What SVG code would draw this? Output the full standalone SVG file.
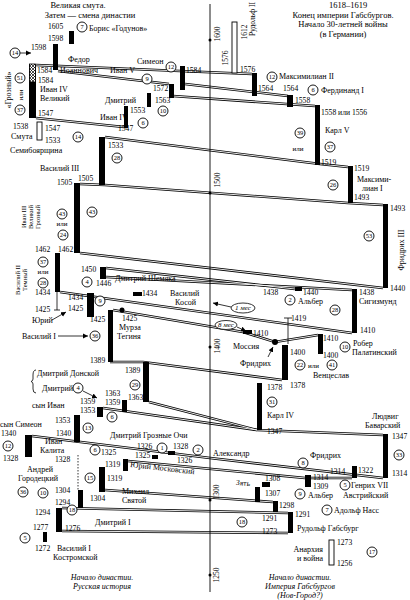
<svg xmlns="http://www.w3.org/2000/svg" width="410" height="600" viewBox="0 0 410 600">
<defs>
<style>
text{font-family:"Liberation Serif","DejaVu Serif",serif;font-size:8px;fill:#000}
.y{font-size:7.6px}
.t{font-size:8.5px}
.s{font-size:7px}
.r{font-size:6.5px}
.it{font-style:italic;font-size:8px}
.bar{fill:#000}
.hb{fill:#fff;stroke:#000;stroke-width:0.9}
.c circle{fill:#fff;stroke:#000;stroke-width:0.9}
.c text{font-size:6.5px;text-anchor:middle}
.lo{fill:none;stroke:#000;stroke-width:2.6}
.li{fill:none;stroke:#fff;stroke-width:0.9}
.th{fill:none;stroke:#000;stroke-width:0.8}
.ax{stroke:#000;stroke-width:0.9}
</style>
<pattern id="hatch" width="3" height="3" patternUnits="userSpaceOnUse">
<rect width="3" height="3" fill="#fff"/>
<path d="M0,3 L3,0 M0,0 L3,3" stroke="#000" stroke-width="0.7"/>
</pattern>
<marker id="ah" markerWidth="6" markerHeight="6" refX="5" refY="3" orient="auto" markerUnits="userSpaceOnUse">
<path d="M0,0.5 L5,3 L0,5.5 z" fill="#000"/>
</marker>
</defs>
<rect width="410" height="600" fill="#fff"/>

<g id="connectors">
<g id="dbl">
<path class="lo" d="M36,65 L252,74"/>
<path class="lo" d="M58,71 L169,84"/>
<path class="lo" d="M185,84 L288,96"/>
<path class="lo" d="M173,96 L315,106"/>
<path class="lo" d="M36,118 L124,127"/>
<path class="lo" d="M105,137 L320,164 L348,167"/>
<path class="lo" d="M80,184 L105,185 L348,203 L383,205"/>
<path class="lo" d="M80,253 L383,288"/>
<path class="lo" d="M106,268 L295,289"/>
<path class="lo" d="M106,277 L352,290"/>
<path class="lo" d="M60,292 L352,333"/>
<path class="lo" d="M113,310 L243,332 L275,342 L318,335"/>
<path class="lo" d="M110,362 L143,362 L282,380"/>
<path class="lo" d="M149,402 L257,430 L383,435"/>
<path class="lo" d="M103,408 L257,430"/>
<path class="lo" d="M32,436 L210,458 L383,478"/>
<path class="lo" d="M128,461 L305,478 L352,478"/>
<path class="lo" d="M105,490 L273,502"/>
<path class="lo" d="M62,508 L288,513"/>
<path class="lo" d="M62,531 L288,533"/>
</g>
<g id="dbl-inner">
<path class="li" d="M36,65 L252,74"/>
<path class="li" d="M58,71 L169,84"/>
<path class="li" d="M185,84 L288,96"/>
<path class="li" d="M173,96 L315,106"/>
<path class="li" d="M36,118 L124,127"/>
<path class="li" d="M105,137 L320,164 L348,167"/>
<path class="li" d="M80,184 L105,185 L348,203 L383,205"/>
<path class="li" d="M80,253 L383,288"/>
<path class="li" d="M106,268 L295,289"/>
<path class="li" d="M106,277 L352,290"/>
<path class="li" d="M60,292 L352,333"/>
<path class="li" d="M113,310 L243,332 L275,342 L318,335"/>
<path class="li" d="M110,362 L143,362 L282,380"/>
<path class="li" d="M149,402 L257,430 L383,435"/>
<path class="li" d="M103,408 L257,430"/>
<path class="li" d="M32,436 L210,458 L383,478"/>
<path class="li" d="M128,461 L305,478 L352,478"/>
<path class="li" d="M105,490 L273,502"/>
<path class="li" d="M62,508 L288,513"/>
<path class="li" d="M62,531 L288,533"/>
</g>
<path class="th" d="M20,53 L31,53" marker-end="url(#ah)"/>
<path class="th" d="M57,292 L57,310 M54,310 L60,310"/>
<path class="th" d="M52,320 L66,312" marker-end="url(#ah)"/>
<path class="th" d="M58,336 L88,336" marker-end="url(#ah)"/>
<path class="th" d="M83,391 L97,398" marker-end="url(#ah)"/>
<path class="th" d="M231,307 L213,303" marker-end="url(#ah)"/>
<path class="th" d="M237,327 L246,331" marker-end="url(#ah)"/>
<path class="th" d="M268,357 L273,347" marker-end="url(#ah)"/>
<path class="th" d="M288,318 L288,344 M284,318 L292,318"/>
<path class="th" d="M78,455 L78,490" stroke-dasharray="1.5,1.5"/>
</g>

<g id="axis">
<line class="ax" x1="210" y1="4" x2="210" y2="592"/>
<circle cx="210" cy="40" r="1.5"/>
<circle cx="210" cy="193" r="1.5"/>
<circle cx="210" cy="347" r="1.5"/>
<circle cx="210" cy="500" r="1.5"/>
<circle cx="210" cy="575" r="1.5"/>
<text class="y" transform="translate(220,34) rotate(-90)" text-anchor="middle">1600</text>
<text class="y" transform="translate(220,180) rotate(-90)" text-anchor="middle">1500</text>
<text class="y" transform="translate(220,346) rotate(-90)" text-anchor="middle">1400</text>
<text class="y" transform="translate(219,492) rotate(-90)" text-anchor="middle">1300</text>
<text class="y" transform="translate(219,575) rotate(-90)" text-anchor="middle">1250</text>
</g>

<g id="title-left">
<text class="t" x="78" y="8" text-anchor="middle">Великая смута.</text>
<text class="t" x="90" y="17.5" text-anchor="middle">Затем — смена династии</text>
</g>
<g id="title-right">
<text class="t" x="348" y="8" text-anchor="middle">1618–1619</text>
<text class="t" x="343" y="17.5" text-anchor="middle">Конец империи Габсбургов.</text>
<text class="t" x="343" y="27" text-anchor="middle">Начало 30-летней войны</text>
<text class="t" x="343" y="36.5" text-anchor="middle">(в Германии)</text>
</g>

<g id="boris">
<rect class="bar" x="69" y="31" width="5" height="13"/>
<text class="y" x="48" y="29">1605</text>
<text class="y" x="48" y="41">1598</text>
<g class="c"><circle cx="82" cy="27" r="5"/><text x="82" y="29.3">7</text></g>
<text x="89" y="31">Борис «Годунов»</text>
</g>

<g id="fedor">
<rect class="bar" x="53" y="44" width="5" height="26"/>
<g class="c"><circle cx="15" cy="53" r="5"/><text x="15" y="55.3">14</text></g>
<text class="y" x="31" y="50">1598</text>
<text x="68" y="62">Федор</text>
<text x="60" y="72.5">Иоаннович</text>
<text class="y" x="37" y="73">1584</text>
</g>

<g id="ivan4">
<rect x="29" y="64" width="7" height="54" fill="#000"/>
<rect x="29.5" y="64" width="6" height="18" fill="url(#hatch)" stroke="#000" stroke-width="0.8"/>
<text class="y" x="38" y="83">1584</text>
<text x="40" y="92">Иван IV</text>
<text x="40" y="101">Великий</text>
<text class="y" x="38" y="116">1547</text>
<text transform="translate(11,90) rotate(-90)" text-anchor="middle">«Грозный»</text>
<g class="c"><circle cx="20" cy="78" r="5"/><text x="20" y="80.3">51</text></g>
<text class="s" transform="translate(22.5,95) rotate(-90)" text-anchor="middle">или</text>
<g class="c"><circle cx="20" cy="110" r="5"/><text x="20" y="112.3">37</text></g>
</g>

<g id="simeon">
<text x="137" y="64">Симеон</text>
<g class="c"><circle cx="171" cy="67" r="5"/><text x="171" y="69.3">12</text></g>
<rect class="bar" x="180" y="66" width="5" height="24"/>
<text class="y" x="186" y="73">1584</text>
</g>

<g id="ivan5">
<text x="110" y="73">Иван V</text>
<g class="c"><circle cx="147" cy="79" r="5"/><text x="147" y="81.3">9</text></g>
<rect class="bar" x="169" y="84" width="5" height="14"/>
<text class="y" x="153" y="91">1572</text>
</g>

<g id="dmitry-1563">
<text x="105" y="103">Дмитрий</text>
<rect class="bar" x="147" y="93" width="4" height="14"/>
<text class="y" x="155" y="103">1563</text>
<g class="c"><circle cx="163" cy="111" r="5"/><text x="163" y="113.3">10</text></g>
</g>

<g id="ivan4b">
<text x="100" y="120">Иван IV</text>
<rect class="bar" x="124" y="106" width="4" height="22"/>
<text class="y" x="130" y="113">1553</text>
<text class="y" x="118" y="131">1547</text>
<g class="c"><circle cx="143" cy="123" r="5"/><text x="143" y="125.3">6</text></g>
</g>

<g id="semiboyar">
<rect class="hb" x="37" y="122" width="5" height="18"/>
<text class="y" x="13" y="129">1538</text>
<text x="11" y="138.5">Смута</text>
<text class="y" x="45" y="131">1547</text>
<text class="y" x="45" y="143">1533</text>
<g class="c"><circle cx="78" cy="137" r="5"/><text x="78" y="139.3">14</text></g>
<text x="10" y="153">Семибоярщина</text>
</g>

<g id="vasily3">
<text x="40" y="171">Василий III</text>
<rect class="bar" x="99" y="137" width="6" height="48"/>
<text class="y" x="108" y="148">1533</text>
<g class="c"><circle cx="117" cy="158" r="5"/><text x="117" y="160.3">28</text></g>
<text class="y" x="78" y="181">1505</text>
</g>

<g id="ivan3">
<rect class="bar" x="74" y="183" width="6" height="70"/>
<text class="y" x="57" y="185">1505</text>
<g class="c"><circle cx="92" cy="212" r="5"/><text x="92" y="214.3">43</text></g>
<text class="r" transform="translate(26,217) rotate(-90)" text-anchor="middle">Иван III</text>
<text class="r" transform="translate(33.2,217) rotate(-90)" text-anchor="middle">Великий</text>
<text class="r" transform="translate(40.4,217) rotate(-90)" text-anchor="middle">Грозный</text>
<g class="c"><circle cx="62" cy="214" r="5"/><text x="62" y="216.3">43</text></g>
<text class="s" x="62" y="226" text-anchor="middle">или</text>
<g class="c"><circle cx="63" cy="235" r="5"/><text x="63" y="237.3">24</text></g>
<text class="y" x="58" y="252">1462</text>
</g>

<g id="vasily2">
<text class="y" x="35" y="252">1462</text>
<rect class="bar" x="55" y="253" width="5" height="39"/>
<g class="c"><circle cx="43" cy="262" r="5"/><text x="43" y="264.3">37</text></g>
<text class="s" x="43" y="274" text-anchor="middle">или</text>
<g class="c"><circle cx="43" cy="283" r="5"/><text x="43" y="285.3">28</text></g>
<text class="y" x="35" y="295">1434</text>
<text class="r" transform="translate(20,280) rotate(-90)" text-anchor="middle">Василий II</text>
<text class="r" transform="translate(27.2,280) rotate(-90)" text-anchor="middle">Темный</text>
<text class="y" x="35" y="312">1425</text>
</g>

<g id="yuri">
<text x="32" y="323">Юрий</text>
</g>

<g id="vasily1">
<text x="22" y="339">Василий I</text>
<g class="c"><circle cx="95" cy="336" r="5"/><text x="95" y="338.3">36</text></g>
<text class="y" x="68" y="300">1434</text>
<text class="y" x="68" y="311">1425</text>
<rect class="bar" x="87" y="293" width="7" height="24"/>
<g class="c"><circle cx="100" cy="301" r="5"/><text x="100" y="303.3">9</text></g>
<text class="y" x="90" y="322">1425</text>
<rect class="bar" x="108" y="310" width="5" height="52"/>
<text class="y" x="90" y="363">1389</text>
</g>

<g id="shemyaka">
<text class="y" x="81" y="272">1450</text>
<rect class="bar" x="100" y="267" width="6" height="12"/>
<g class="c"><circle cx="87" cy="282" r="5"/><text x="87" y="284.3">4</text></g>
<text class="y" x="96" y="286">1446</text>
<text x="115" y="281">Дмитрий Шемяка</text>
</g>

<g id="kosoy">
<rect class="bar" x="133" y="292" width="9" height="4"/>
<text class="y" x="142" y="296">1434</text>
<text x="170" y="296">Василий</text>
<text x="175" y="305">Косой</text>
</g>

<g id="tegin">
<circle cx="122" cy="310" r="2.5"/>
<text class="y" x="122" y="321">1425</text>
<text x="119" y="330">Мурза</text>
<text x="117" y="339">Тегиня</text>
</g>

<g id="months">
<ellipse cx="243" cy="308" rx="12" ry="5" fill="#fff" stroke="#000" stroke-width="0.8"/>
<text class="s" x="243" y="310.3" text-anchor="middle" font-style="italic">1 мес</text>
<ellipse cx="226" cy="325" rx="11" ry="4.5" fill="#fff" stroke="#000" stroke-width="0.8"/>
<text class="s" x="226" y="327.3" text-anchor="middle" font-style="italic">8 мес</text>
<rect class="bar" x="243" y="330" width="9" height="4"/>
<text class="y" x="253" y="336">1410</text>
</g>

<g id="mossiya">
<circle cx="275" cy="342" r="3"/>
<text x="233" y="349">Моссия</text>
<text x="240" y="366">Фридрих</text>
</g>

<g id="rudolf2">
<rect class="hb" x="232" y="22" width="5" height="51"/>
<text class="y" transform="translate(247,32) rotate(-90)" text-anchor="middle">1612</text>
<text class="y" transform="translate(254.5,19) rotate(-90)" text-anchor="middle">Рудольф II</text>
<text class="y" transform="translate(228,58) rotate(-90)" text-anchor="middle">1576</text>
</g>

<g id="max2">
<rect class="bar" x="252" y="73" width="5" height="23"/>
<text class="y" x="240" y="72">1576</text>
<g class="c"><circle cx="272" cy="77" r="5"/><text x="272" y="79.3">12</text></g>
<text x="279" y="79">Максимилиан II</text>
<text class="y" x="258" y="91">1564</text>
</g>

<g id="ferdinand">
<text class="y" x="283" y="91">1564</text>
<g class="c"><circle cx="313" cy="90" r="5"/><text x="313" y="92.3">6</text></g>
<text x="321" y="93">Фердинанд I</text>
<rect class="bar" x="287" y="95" width="6" height="12"/>
<text class="y" x="295" y="103">1558</text>
</g>

<g id="karl5">
<rect class="bar" x="315" y="105" width="5" height="60"/>
<text class="y" x="321" y="115">1558 или 1556</text>
<text x="325" y="133">Карл V</text>
<g class="c"><circle cx="300" cy="133" r="5"/><text x="300" y="135.3">39</text></g>
<text class="s" x="298" y="151" text-anchor="middle">или</text>
<g class="c"><circle cx="330" cy="147" r="5"/><text x="330" y="149.3">37</text></g>
<text class="y" x="321" y="165">1519</text>
</g>

<g id="max1">
<rect class="bar" x="348" y="166" width="5" height="37"/>
<text class="y" x="354" y="171">1519</text>
<text x="357" y="182">Максими-</text>
<text x="362" y="191">лиан I</text>
<text class="y" x="354" y="200">1493</text>
<g class="c"><circle cx="333" cy="185" r="5"/><text x="333" y="187.3">26</text></g>
</g>

<g id="friedrich3">
<rect class="bar" x="383" y="204" width="5" height="84"/>
<text class="y" x="390" y="211">1493</text>
<g class="c"><circle cx="369" cy="236" r="5"/><text x="369" y="238.3">53</text></g>
<text transform="translate(404,250) rotate(-90)" text-anchor="middle">Фридрих III</text>
<text class="y" x="390" y="291">1440</text>
</g>

<g id="albert2">
<rect class="bar" x="295" y="287" width="7" height="4"/>
<text class="y" x="263" y="295">1438</text>
<text class="y" x="303" y="295">1440</text>
<g class="c"><circle cx="290" cy="300" r="5"/><text x="290" y="302.3">2</text></g>
<text x="298" y="304">Альбер</text>
</g>

<g id="sigismund">
<rect class="bar" x="352" y="289" width="5" height="44"/>
<text class="y" x="359" y="295">1438</text>
<text x="359" y="304">Сигизмунд</text>
<g class="c"><circle cx="335" cy="310" r="5"/><text x="335" y="312.3">28</text></g>
<text class="y" x="360" y="333">1410</text>
</g>

<g id="marker-1419">
<text class="y" x="291" y="321">1419</text>
</g>

<g id="rober">
<rect class="bar" x="318" y="334" width="5" height="20"/>
<text class="y" x="323" y="341">1410</text>
<g class="c"><circle cx="345" cy="347" r="5"/><text x="345" y="349.3">10</text></g>
<text x="353" y="345.5">Робер</text>
<text x="352" y="354.5">Палатинский</text>
<text class="y" x="323" y="358">1400</text>
</g>

<g id="wenceslaus">
<rect class="bar" x="282" y="345" width="6" height="35"/>
<text class="y" x="290" y="355">1400</text>
<g class="c"><circle cx="300" cy="365" r="5"/><text x="300" y="367.3">22</text></g>
<text class="s" x="308" y="368">или</text>
<g class="c"><circle cx="332" cy="365" r="5"/><text x="332" y="367.3">41</text></g>
<text x="313" y="377.5">Венцеслав</text>
<text class="y" x="290" y="388">1378</text>
</g>

<g id="karl4">
<rect class="bar" x="257" y="383" width="5" height="47"/>
<text class="y" x="267" y="390">1378</text>
<g class="c"><circle cx="272" cy="402" r="5"/><text x="272" y="404.3">31</text></g>
<text x="267" y="418">Карл IV</text>
<text class="y" x="267" y="434">1347</text>
</g>

<g id="ludwig">
<text x="372" y="419">Людвиг</text>
<text x="365" y="428">Баварский</text>
<text class="y" x="392" y="438.5">1347</text>
<rect class="bar" x="383" y="434" width="5" height="44"/>
<g class="c"><circle cx="399" cy="455" r="5"/><text x="399" y="457.3">33</text></g>
<text class="y" x="392" y="476">1314</text>
</g>

<g id="friedrich">
<text x="310" y="458">Фридрих</text>
<g class="c"><circle cx="303" cy="463" r="5"/><text x="303" y="465.3">8</text></g>
<rect class="bar" x="352" y="466" width="5" height="12"/>
<text class="y" x="330" y="474">1314</text>
<text class="y" x="358" y="473">1322</text>
</g>

<g id="henry7">
<g class="c"><circle cx="345" cy="485" r="5"/><text x="345" y="487.3">5</text></g>
<text x="351" y="488">Генрих VII</text>
<rect class="bar" x="305" y="475" width="6" height="12"/>
<text class="y" x="313" y="480">1314</text>
<text class="y" x="313" y="488.5">1309</text>
</g>

<g id="albert1">
<text class="y" x="265" y="481">1308</text>
<rect class="bar" x="262" y="482" width="8" height="5"/>
<text class="y" x="236" y="486" transform="rotate(6 248 484)">Зять</text>
<g class="c"><circle cx="300" cy="494" r="5"/><text x="300" y="496.3">9</text></g>
<text x="308" y="498">Альбер</text>
<text x="343" y="498">Австрийский</text>
<rect class="bar" x="255" y="487" width="5" height="15"/>
<text class="y" x="265" y="496">1307</text>
</g>

<g id="adolf">
<rect class="bar" x="273" y="501" width="5" height="11"/>
<text class="y" x="279" y="508">1298</text>
<g class="c"><circle cx="327" cy="510" r="5"/><text x="327" y="512.3">7</text></g>
<text x="334" y="513">Адольф Насс</text>
<text class="y" x="295" y="517">1291</text>
</g>

<g id="rudolf1">
<rect class="bar" x="288" y="512" width="5" height="21"/>
<text class="y" x="262" y="521">1291</text>
<text class="y" x="262" y="534">1273</text>
<g class="c"><circle cx="242" cy="522" r="5"/><text x="242" y="524.3">18</text></g>
<text x="297" y="531">Рудольф Габсбург</text>
</g>

<g id="anarchy">
<rect class="hb" x="329" y="540" width="5" height="25"/>
<text class="y" x="337" y="545">1273</text>
<text class="y" x="337" y="566">1256</text>
<text x="323" y="552" text-anchor="end">Анархия</text>
<text x="323" y="561" text-anchor="end">и война</text>
<g class="c"><circle cx="372" cy="552" r="5"/><text x="372" y="554.3">17</text></g>
</g>

<g id="foot-right">
<text class="it" x="300" y="580" text-anchor="middle">Начало династии.</text>
<text class="it" x="300" y="589" text-anchor="middle">Империя Габсбургов</text>
<text class="it" x="300" y="598" text-anchor="middle">(Нов-Город?)</text>
</g>

<g id="dmitry-donskoy">
<rect class="bar" x="143" y="362" width="6" height="40"/>
<text class="y" x="125" y="373">1389</text>
<g class="c"><circle cx="135" cy="385" r="5"/><text x="135" y="387.3">29</text></g>
<text class="y" x="128" y="400">1363</text>
<path class="th" d="M36,370 Q33,370 33,375 L33,379 Q33,381 31,381.5 Q33,382 33,384 L33,389 Q33,393 36,393"/>
<text x="37" y="376">Дмитрий Донской</text>
<text x="42" y="391">Дмитрий</text>
<g class="c"><circle cx="78" cy="388" r="5"/><text x="78" y="390.3">4</text></g>
<text class="y" x="105" y="396">1363</text>
<text class="y" x="105" y="405">1359</text>
<rect class="bar" x="122" y="400" width="5" height="12"/>
</g>

<g id="son-ivan">
<text x="32" y="408">сын Иван</text>
<text class="y" x="80" y="404">1359</text>
<text class="y" x="80" y="413">1353</text>
<rect class="bar" x="97" y="407" width="6" height="10"/>
<g class="c"><circle cx="112" cy="417" r="5"/><text x="112" y="419.3">6</text></g>
</g>

<g id="son-simeon">
<rect class="bar" x="74" y="415" width="6" height="27"/>
<text class="y" x="55" y="423">1353</text>
<g class="c"><circle cx="88" cy="428" r="5"/><text x="88" y="430.3">13</text></g>
<text class="y" x="56" y="436">1340</text>
<text x="0" y="427">сын Симеон</text>
<text class="y" x="1" y="436">1340</text>
</g>

<g id="kalita">
<rect class="bar" x="25" y="435" width="7" height="22"/>
<g class="c"><circle cx="8" cy="446" r="5"/><text x="8" y="448.3">12</text></g>
<text x="45" y="444">Иван</text>
<text x="40" y="453">Калита</text>
<text class="y" x="3" y="461">1328</text>
<text class="y" x="55" y="462">1328</text>
</g>

<g id="alexandr">
<g class="c"><circle cx="95" cy="450" r="5"/><text x="95" y="452.3">6</text></g>
<text class="y" x="101" y="455">1325</text>
<text x="213" y="456">Александр</text>
</g>

<g id="dmitry-groznye">
<text x="110" y="438">Дмитрий Грозные Очи</text>
<text class="y" x="137" y="449">1326</text>
<g class="c"><circle cx="162" cy="448" r="5"/><text x="162" y="450.3">1</text></g>
<text class="y" x="173" y="449">1328</text>
<g class="c"><circle cx="198" cy="450" r="5"/><text x="198" y="452.3">2</text></g>
<text class="y" x="135" y="458">1325</text>
<rect class="bar" x="152" y="455" width="6" height="4"/>
<rect class="bar" x="168" y="451" width="7" height="4"/>
<text class="y" x="177" y="463">1326</text>
</g>

<g id="yuri-moskovsky">
<text class="y" x="105" y="467">1319</text>
<rect class="bar" x="123" y="459" width="5" height="12"/>
<text x="130" y="467" transform="rotate(6.5 130 467)">Юрий Московский</text>
</g>

<g id="andrei">
<text x="27" y="472">Андрей</text>
<text x="18" y="481">Городецкий</text>
<g class="c"><circle cx="23" cy="492" r="5"/><text x="23" y="494.3">36</text></g>
<g class="c"><circle cx="43" cy="493" r="5"/><text x="43" y="495.3">10</text></g>
<text class="y" x="55" y="493">1304</text>
<text class="y" x="55" y="505">1294</text>
<rect class="bar" x="78" y="490" width="5" height="18"/>
</g>

<g id="mikhail">
<rect class="bar" x="99" y="467" width="6" height="25"/>
<g class="c"><circle cx="90" cy="478" r="5"/><text x="90" y="480.3">15</text></g>
<text class="y" x="107" y="481">1319</text>
<text class="y" x="90" y="501">1304</text>
<text x="122" y="494">Михаил</text>
<text x="122" y="503">Святой</text>
</g>

<g id="dmitry1">
<rect class="bar" x="56" y="508" width="6" height="24"/>
<text class="y" x="35" y="515">1294</text>
<g class="c"><circle cx="72" cy="510" r="5"/><text x="72" y="512.3">18</text></g>
<text class="y" x="65" y="531">1276</text>
<text x="95" y="525">Дмитрий I</text>
</g>

<g id="vasily-kostroma">
<text class="y" x="33" y="530">1277</text>
<rect class="bar" x="43" y="532" width="4" height="10"/>
<g class="c"><circle cx="25" cy="538" r="5"/><text x="25" y="540.3">5</text></g>
<text class="y" x="35" y="551">1272</text>
<text x="57" y="551">Василий I</text>
<text x="53" y="560">Костромской</text>
</g>

<g id="foot-left">
<text class="it" x="102" y="580" text-anchor="middle">Начало династии.</text>
<text class="it" x="102" y="589" text-anchor="middle">Русская история</text>
</g>
</svg>
